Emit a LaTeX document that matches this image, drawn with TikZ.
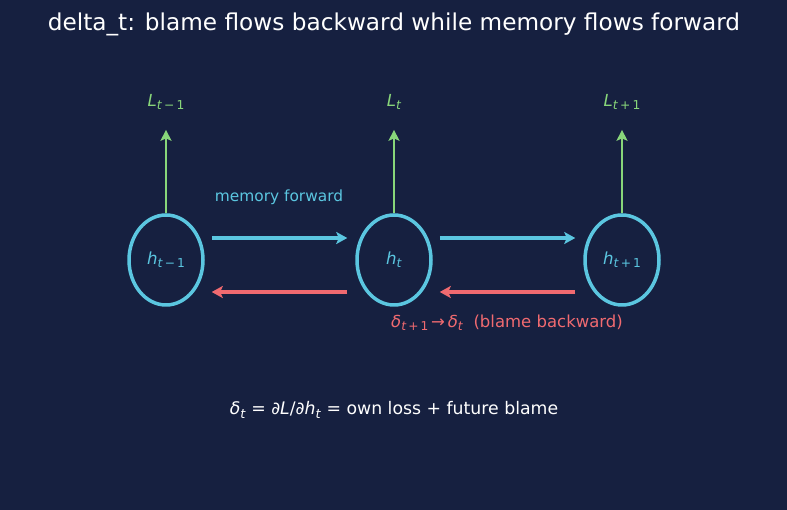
\documentclass[tikz,border=0pt]{standalone}
\usepackage{fontspec}
\setmainfont{DejaVu Sans}
\usetikzlibrary{shapes.geometric,arrows.meta}
\definecolor{bg}{HTML}{162040}
\definecolor{cy}{HTML}{5BC6E0}
\definecolor{gr}{HTML}{88D67A}
\definecolor{rd}{HTML}{F06A70}
\newcommand\vs[2]{#1\raisebox{-0.35ex}{\fontsize{0.74em}{1em}\selectfont #2}}
\newcommand\mi[1]{\textit{#1}}
\begin{document}
\begin{tikzpicture}[x=1pt,y=1pt,
  hnode/.style={draw=cy,line width=3.5,ellipse,minimum width=74,minimum height=90,inner sep=0,text=cy,font=\fontsize{16.6}{19}\selectfont},
  lnode/.style={text=gr,font=\fontsize{16.6}{19}\selectfont,inner sep=0},
  up/.style={draw=gr,line width=2.9,-{Stealth[length=11,width=11,inset=2.5]}},
  fw/.style={draw=cy,line width=3.5,-{Stealth[length=11,width=12,inset=2.5]}},
  bw/.style={draw=rd,line width=3.5,-{Stealth[length=11,width=12,inset=2.5]}}]
\fill[bg] (0,0) rectangle (787,510);
\useasboundingbox (0,0) rectangle (787,510);
\node[text=white,font=\fontsize{23.2}{26}\selectfont] (title) at (394,486) {delta\_t: blame flows backward while memory flows forward};
\node[hnode] (h1) at (166,250) {\vs{\mi{h}}{\mi{t}\,−\,1}};
\node[hnode] (h2) at (394,250) {\vs{\mi{h}}{\mi{t}}};
\node[hnode] (h3) at (622,250) {\vs{\mi{h}}{\mi{t}\,+\,1}};
\node[lnode] (L1) at (166,408) {\vs{\mi{L}}{\mi{t}\,−\,1}};
\node[lnode] (L2) at (394,408) {\vs{\mi{L}}{\mi{t}}};
\node[lnode] (L3) at (622,408) {\vs{\mi{L}}{\mi{t}\,+\,1}};
\draw[up] (h1.north) -- ([yshift=-20]L1.south);
\draw[up] (h2.north) -- ([yshift=-20]L2.south);
\draw[up] (h3.north) -- ([yshift=-20]L3.south);
\draw[fw] ([xshift=7,yshift=22]h1.east) -- ([xshift=-8,yshift=22]h2.west);
\draw[fw] ([xshift=7,yshift=22]h2.east) -- ([xshift=-8,yshift=22]h3.west);
\draw[bw] ([xshift=-8,yshift=-32]h2.west) -- ([xshift=7,yshift=-32]h1.east);
\draw[bw] ([xshift=-8,yshift=-32]h3.west) -- ([xshift=7,yshift=-32]h2.east);
\node[text=cy,font=\fontsize{15.4}{18}\selectfont] (mem) at (279,313) {memory forward};
\node[text=rd,font=\fontsize{16.5}{19}\selectfont] (blame) at (507,187) {\vs{\mi{δ}}{\mi{t}\,+\,1}\,→\,\vs{\mi{δ}}{\mi{t}}\ \ (blame backward)};
\node[text=white,font=\fontsize{17.3}{20}\selectfont] (eq) at (394,100) {\vs{\mi{δ}}{\mi{t}} = \mi{∂L}/\mi{∂}\vs{\mi{h}}{\mi{t}} = own loss + future blame};
\end{tikzpicture}
\end{document}
